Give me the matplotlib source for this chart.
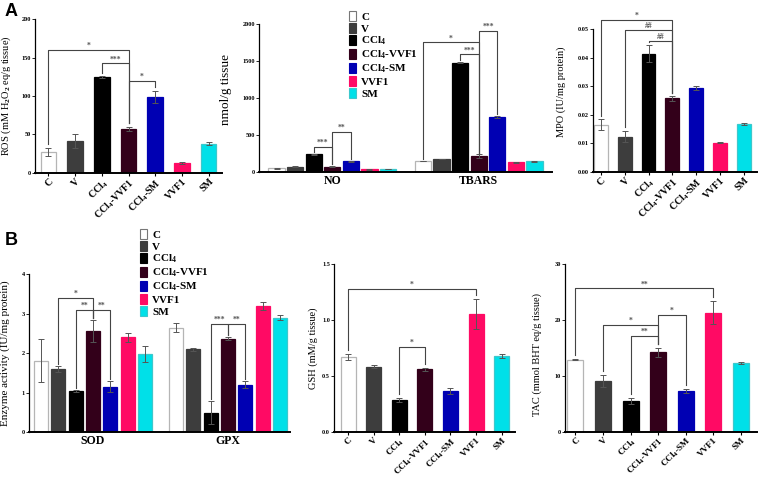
import numpy as np
import matplotlib.pyplot as plt
from matplotlib.patches import Patch
from matplotlib.ticker import FormatStrFormatter

plt.rcParams['font.family'] = ['Liberation Serif', 'DejaVu Serif']
plt.rcParams['font.weight'] = 'bold'
plt.rcParams['mathtext.fontset'] = 'custom'
plt.rcParams['mathtext.rm'] = 'Liberation Serif:bold'
plt.rcParams['mathtext.it'] = 'Liberation Serif:bold'
plt.rcParams['mathtext.bf'] = 'Liberation Serif:bold'

# grupos de tratamiento
grupos = ['C', 'V', r'CCl$_4$', r'CCl$_4$-VVF1', r'CCl$_4$-SM', 'VVF1', 'SM']
colores = ['#ffffff', '#3d3d3d', '#000000', '#33001a', '#0000b3', '#ff0a64', '#00e0e8']
bordes = ['#b5b5b5', '#3d3d3d', '#000000', '#33001a', '#0000b3', '#ff0a64', '#3cc8cc']

# valores (media, error)
ros = [27.4, 41.3, 124.5, 57, 98.3, 12.6, 38]
ros_err = [5.2, 8.7, 1, 3, 8, 1.5, 2]
no = [54, 78, 243, 76, 150, 40, 44]
no_err = [5, 6, 10, 8, 6, 4, 5]
tbars = [152, 179, 1478, 220, 750, 135, 150]
tbars_err = [6, 5, 10, 22, 15, 5, 5]
mpo = [0.0164, 0.0123, 0.0413, 0.0257, 0.0293, 0.0102, 0.0166]
mpo_err = [0.0019, 0.002, 0.003, 0.0008, 0.0006, 0.0003, 0.0004]
sod = [1.81, 1.60, 1.04, 2.56, 1.15, 2.40, 1.97]
sod_err = [0.54, 0.07, 0.03, 0.29, 0.14, 0.12, 0.2]
gpx = [2.64, 2.10, 0.50, 2.37, 1.20, 3.19, 2.90]
gpx_err = [0.11, 0.04, 0.29, 0.05, 0.09, 0.09, 0.06]
gsh = [0.67, 0.586, 0.288, 0.563, 0.369, 1.056, 0.68]
gsh_err = [0.026, 0.012, 0.015, 0.012, 0.029, 0.134, 0.02]
tac = [12.9, 9.07, 5.49, 14.2, 7.28, 21.3, 12.35]
tac_err = [0.1, 1.0, 0.5, 0.8, 0.3, 2.0, 0.15]

# comparaciones significativas: (barra i, barra j, altura, texto)
ros_sig = [(0, 3, 160, '*'), (2, 3, 142.6, '***'), (3, 4, 119.6, '*')]
no_sig = [(2, 3, 345, '***'), (3, 4, 548, '**')]
tbars_sig = [(0, 3, 1753, '*'), (2, 3, 1591, '***'), (3, 4, 1910, '***')]
mpo_sig = [(0, 3, 0.0532, '*'), (1, 3, 0.0497, '##'), (2, 3, 0.0459, '##')]
sod_sig = [(1, 3, 3.40, '*'), (2, 3, 3.09, '**'), (3, 4, 3.09, '**')]
gpx_sig = [(2, 3, 2.73, '***'), (3, 4, 2.73, '**')]
gsh_sig = [(0, 5, 1.28, '*'), (2, 3, 0.764, '*')]
tac_sig = [(0, 5, 25.65, '**'), (1, 3, 19.1, '*'), (2, 3, 17.1, '**'), (3, 4, 20.9, '*')]

W, H = 758, 479
fig = plt.figure(figsize=(W / 100, H / 100), dpi=100)


def ejes(x0, x1, ytop, ybot):
    # posicion en pixeles de la figura original
    return fig.add_axes([x0 / W, 1 - ybot / H, (x1 - x0) / W, (ybot - ytop) / H])


def estilo(ax):
    ax.spines.top.set_visible(False)
    ax.spines.right.set_visible(False)
    ax.spines['left'].set_linewidth(0.9)
    ax.spines['bottom'].set_linewidth(1.4)
    ax.tick_params(axis='y', labelsize=4.5, length=2, width=0.6, pad=1)
    ax.tick_params(axis='x', length=2, width=0.8, pad=1)


def barras(ax, xs, vals, errs, ancho):
    for k in range(7):
        ax.bar(xs[k], vals[k], ancho, color=colores[k], edgecolor=bordes[k], linewidth=0.9, zorder=2)
        ax.errorbar(xs[k], vals[k], yerr=errs[k], fmt='none', ecolor='#555555',
                    elinewidth=0.7, capsize=2.5, capthick=0.7, zorder=3)


def llaves(ax, xs, vals, errs, sig, gap):
    for i, j, y, txt in sig:
        yi = min(vals[i] + errs[i] + gap, y)
        yj = min(vals[j] + errs[j] + gap, y)
        ax.plot([xs[i], xs[i], xs[j], xs[j]], [yi, y, y, yj], color='#444444',
                lw=0.8, clip_on=False, zorder=4)
        ax.text((xs[i] + xs[j]) / 2, y, txt, ha='center', va='bottom', fontsize=5.5,
                color='#555555', clip_on=False)


def simple(ax, vals, errs, sig, ymax, ylabel, labx, ytks, tam=7.2):
    xs = np.arange(7)
    barras(ax, xs, vals, errs, 0.58)
    llaves(ax, xs, vals, errs, sig, 0.025 * ymax)
    ax.set_ylim(0, ymax)
    ax.set_yticks(ytks)
    ax.set_xticks(xs)
    ax.set_xticklabels(grupos, rotation=45, ha='right', rotation_mode='anchor', fontsize=tam)
    ax.set_ylabel(ylabel, fontsize=7.5)
    ax.yaxis.set_label_coords(labx, 0.5)
    estilo(ax)


def agrupado(ax, series, errores, sigs, paso, ancho, ymax, ytks, nombres):
    for g in range(len(series)):
        xs = g + (np.arange(7) - 3) * paso
        barras(ax, xs, series[g], errores[g], ancho)
        llaves(ax, xs, series[g], errores[g], sigs[g], 0.012 * ymax)
    ax.set_ylim(0, ymax)
    ax.set_yticks(ytks)
    ax.set_xticks(range(len(series)))
    ax.set_xticklabels(nombres, fontsize=8.5)
    estilo(ax)
    ax.tick_params(axis='x', length=0, pad=2)


# A: ROS
ax1 = ejes(35, 222, 19.3, 172.7)
simple(ax1, ros, ros_err, ros_sig, 200, r'ROS (mM H$_2$O$_2$ eq/g tissue)', -0.118, [0, 50, 100, 150, 200])
ax1.set_xlim(-0.5, 6.5)

# A: NO / TBARS
ax2 = ejes(259, 552, 24, 172.3)
agrupado(ax2, [no, tbars], [no_err, tbars_err], [no_sig, tbars_sig], 0.1265, 0.112, 2000,
         [0, 500, 1000, 1500, 2000], ['NO', 'TBARS'])
ax2.set_xlim(-0.5, 1.5)
ax2.set_ylabel('nmol/g tissue', fontsize=9.5)
ax2.yaxis.set_label_coords(-0.092, 0.56)

# A: MPO
ax3 = ejes(593, 757, 29, 171.7)
simple(ax3, mpo, mpo_err, mpo_sig, 0.05, 'MPO (IU/mg protein)', -0.165, [0, 0.01, 0.02, 0.03, 0.04, 0.05])
ax3.set_xlim(-0.33, 6.55)
ax3.yaxis.set_major_formatter(FormatStrFormatter('%.2f'))
ax3.yaxis.set_label_coords(-0.165, 0.56)

# B: SOD / GPX
ax4 = ejes(29, 290, 274, 432.3)
agrupado(ax4, [sod, gpx], [sod_err, gpx_err], [sod_sig, gpx_sig], 0.128, 0.104, 4,
         [0, 1, 2, 3, 4], ['SOD', 'GPX'])
ax4.set_xlim(-0.474, 1.459)
ax4.set_ylabel('Enzyme activity (IU/mg protein)', fontsize=8)
ax4.yaxis.set_label_coords(-0.073, 0.5)

# B: GSH
ax5 = ejes(334, 515, 264.3, 432.3)
simple(ax5, gsh, gsh_err, gsh_sig, 1.5, 'GSH (mM/g tissue)', -0.088, [0, 0.5, 1.0, 1.5], tam=6.6)
ax5.set_xlim(-0.55, 6.52)
ax5.yaxis.set_major_formatter(FormatStrFormatter('%.1f'))

# B: TAC
ax6 = ejes(565, 757, 264, 431.7)
simple(ax6, tac, tac_err, tac_sig, 30, 'TAC (mmol BHT eq/g tissue)', -0.12, [0, 10, 20, 30], tam=6.6)
ax6.set_xlim(-0.38, 6.58)
ax6.yaxis.set_label_coords(-0.12, 0.46)

# leyendas
manejadores = [Patch(facecolor=colores[k], edgecolor='#777777' if k == 0 else bordes[k], linewidth=0.8)
               for k in range(7)]
for (lx, ly) in [(349, 11), (140, 229)]:
    fig.legend(manejadores, grupos, loc='upper left', bbox_to_anchor=(lx / W, 1 - ly / H),
               frameon=False, fontsize=8, handlelength=0.65, handleheight=0.95,
               handletextpad=0.45, labelspacing=0.12, borderpad=0, borderaxespad=0)

fig.text(5 / W, 1 - 3 / H, 'A', fontsize=13, fontweight='bold', family='Liberation Sans', va='top')
fig.text(5 / W, 1 - 232 / H, 'B', fontsize=13, fontweight='bold', family='Liberation Sans', va='top')

fig.savefig('out.png', dpi=100)
